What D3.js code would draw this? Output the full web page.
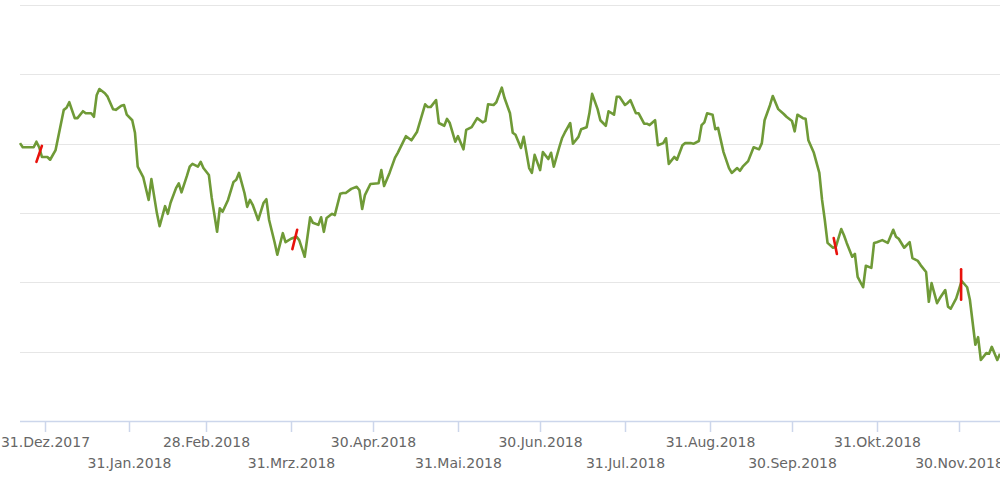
<!DOCTYPE html>
<html lang="de">
  <head>
    <meta charset="utf-8" />
    <title>Kursverlauf 2018</title>
    <script src="https://cdnjs.cloudflare.com/ajax/libs/d3/7.8.5/d3.min.js"></script>
    <style>
      body {
        margin: 0;
        background: #fff;
        font-family: "DejaVu Sans", Verdana, sans-serif;
      }
      .grid line {
        stroke: #e6e6e6;
      }
      .tick-label {
        fill: #666;
        font-size: 14px;
      }
    </style>
  </head>
  <body>
    <div id="chart"></div>
    <script>
      // days after 31.Dez.2017 and price
      const dayOffsets = [
        -9, -8, -4, -3, -2, -1, 1, 2, 4, 7, 8, 9, 11, 12, 14, 15, 17, 18, 19, 20,
        22, 23, 25, 26, 28, 29, 30, 32, 33, 34, 36, 38, 39, 41, 42, 44, 45, 46, 48, 49,
        50, 52, 53, 54, 56, 57, 58, 60, 61, 63, 64, 65, 67, 69, 70, 71, 73, 74, 75, 76,
        78, 80, 81, 82, 84, 85, 87, 88, 90, 92, 93, 95, 97, 98, 100, 101, 102, 103, 105, 106,
        108, 109, 110, 112, 114, 115, 116, 117, 119, 122, 123, 124, 126, 128, 129, 132, 133, 134, 136, 139,
        140, 141, 143, 144, 146, 147, 148, 150, 151, 153, 154, 156, 158, 160, 161, 162, 164, 165, 167, 168,
        170, 171, 172, 174, 175, 177, 178, 179, 181, 182, 184, 185, 186, 188, 189, 190, 192, 193, 195, 196,
        198, 199, 200, 202, 203, 205, 206, 208, 209, 210, 212, 213, 214, 216, 217, 219, 220, 221, 223, 224,
        226, 227, 228, 230, 231, 233, 234, 236, 237, 239, 240, 241, 242, 244, 245, 246, 248, 250, 251, 253,
        254, 255, 257, 259, 261, 262, 263, 265, 266, 268, 270, 271, 273, 274, 275, 277, 278, 279, 281, 283,
        284, 285, 286, 288, 289, 291, 292, 293, 295, 296, 297, 299, 300, 302, 303, 304, 306, 308, 310, 311,
        312, 314, 316, 317, 319, 320, 322, 323, 324, 326, 327, 329, 330, 331, 333, 335, 337, 338, 340, 341,
        342, 344, 345, 346, 348, 349
      ];
      const prices = [
        40.1, 39.5, 39.5, 40.3, 39.5, 38.1, 38.1, 37.7, 39.1, 44.9, 45.2, 46.0, 43.7, 43.7, 44.7, 44.4, 44.4, 43.9, 47.0, 47.9,
        47.3, 46.8, 45.0, 44.9, 45.5, 45.6, 44.2, 43.4, 41.6, 36.7, 35.2, 31.9, 34.9, 30.0, 28.1, 31.0, 29.9, 31.5, 33.6, 34.3,
        33.0, 35.4, 36.7, 37.1, 36.7, 37.4, 36.5, 35.5, 32.3, 27.3, 30.7, 30.2, 31.9, 34.5, 34.8, 35.8, 32.9, 30.9, 31.9, 31.2,
        29.0, 31.5, 32.0, 29.0, 25.8, 24.0, 27.1, 25.8, 26.3, 26.6, 26.1, 23.7, 29.4, 28.6, 28.3, 29.4, 27.3, 29.3, 29.9, 29.7,
        32.8, 32.9, 32.9, 33.5, 33.8, 33.3, 30.6, 32.6, 34.2, 34.3, 36.2, 33.9, 35.8, 38.0, 38.7, 41.1, 40.8, 40.5, 41.7, 45.7,
        45.3, 45.3, 46.3, 43.0, 42.6, 43.6, 43.0, 40.3, 41.1, 39.2, 42.0, 42.4, 43.7, 43.1, 43.3, 45.7, 45.6, 46.0, 48.1, 46.6,
        44.4, 41.6, 41.3, 39.4, 41.0, 36.5, 35.8, 38.4, 36.2, 38.8, 37.8, 38.7, 36.7, 39.5, 40.8, 41.6, 43.0, 40.0, 41.0, 42.1,
        42.4, 44.4, 47.2, 45.0, 43.4, 42.6, 44.7, 44.2, 46.8, 46.8, 45.6, 45.9, 46.3, 44.4, 44.4, 42.9, 42.9, 42.7, 43.4, 39.8,
        40.1, 40.8, 37.1, 38.1, 37.7, 39.8, 40.1, 40.1, 40.0, 40.4, 42.7, 43.1, 44.4, 44.2, 42.1, 42.3, 38.8, 36.5, 35.8, 36.5,
        36.1, 36.7, 37.5, 39.5, 39.2, 40.1, 43.4, 45.6, 46.9, 45.0, 44.3, 43.9, 43.3, 41.8, 44.2, 43.7, 43.6, 40.5, 38.7, 35.8,
        31.9, 29.0, 25.7, 25.0, 25.1, 27.7, 26.8, 25.7, 23.7, 24.1, 20.8, 19.3, 22.4, 22.1, 25.7, 25.8, 26.1, 25.7, 27.6, 26.6,
        26.3, 25.0, 25.8, 23.5, 23.1, 22.5, 21.5, 17.2, 19.9, 17.0, 17.7, 18.9, 16.5, 16.2, 17.7, 20.2, 19.3, 17.5, 11.0, 12.1,
        8.8, 9.8, 9.7, 10.7, 8.8, 9.7
      ];

      // red event markers (start/end date and price)
      const markerStart = ["2017-12-28T00:00", "2018-03-31T12:00", "2018-10-15T06:00", "2018-11-30T19:00"];
      const markerEnd = ["2017-12-30T00:00", "2018-04-02T06:00", "2018-10-16T10:00", "2018-11-30T19:00"];
      const markerFrom = [37.4, 24.8, 26.4, 21.9];
      const markerTo = [39.7, 27.6, 24.1, 17.5];

      const tickDates = [
        "2017-12-31", "2018-01-31", "2018-02-28", "2018-03-31", "2018-04-30", "2018-05-31",
        "2018-06-30", "2018-07-31", "2018-08-31", "2018-09-30", "2018-10-31", "2018-11-30"
      ];
      const tickLabels = [
        "31.Dez.2017", "31.Jan.2018", "28.Feb.2018", "31.Mrz.2018", "30.Apr.2018", "31.Mai.2018",
        "30.Jun.2018", "31.Jul.2018", "31.Aug.2018", "30.Sep.2018", "31.Okt.2018", "30.Nov.2018"
      ];
      const gridValues = [10, 20, 30, 40, 50, 60];

      const width = 1000;
      const height = 477;
      const parse = d3.isoParse;
      const base = new Date(2017, 11, 31);

      const series = dayOffsets.map((d, i) => ({
        date: d3.timeDay.offset(base, d),
        value: prices[i],
      }));

      const x = d3
        .scaleTime()
        .domain([new Date(2017, 11, 22), new Date(2018, 11, 15)])
        .range([20, 1000]);
      const y = d3.scaleLinear().domain([0, 60]).range([421, 5.2]);

      const svg = d3
        .select("#chart")
        .append("svg")
        .attr("width", width)
        .attr("height", height);

      // horizontal grid
      svg
        .append("g")
        .attr("class", "grid")
        .selectAll("line")
        .data(gridValues)
        .enter()
        .append("line")
        .attr("x1", 20)
        .attr("x2", width)
        .attr("y1", (d) => Math.round(y(d)) + 0.5)
        .attr("y2", (d) => Math.round(y(d)) + 0.5);

      // x axis line and ticks
      svg
        .append("line")
        .attr("x1", 20)
        .attr("x2", width)
        .attr("y1", 421.5)
        .attr("y2", 421.5)
        .attr("stroke", "#ccd6eb")
        .attr("stroke-width", 1.5);

      const ticks = svg
        .append("g")
        .selectAll("g")
        .data(tickDates)
        .enter()
        .append("g")
        .attr("transform", (d) => `translate(${Math.round(x(parse(d))) + 0.5},0)`);

      ticks
        .append("line")
        .attr("y1", 421)
        .attr("y2", 432)
        .attr("stroke", "#ccd6eb")
        .attr("stroke-width", 1.5);

      ticks
        .append("text")
        .attr("class", "tick-label")
        .attr("text-anchor", "middle")
        .attr("y", (d, i) => (i % 2 === 0 ? 447 : 468))
        .text((d, i) => tickLabels[i]);

      // price line
      const line = d3
        .line()
        .x((d) => x(d.date))
        .y((d) => y(d.value));

      svg
        .append("path")
        .datum(series)
        .attr("d", line)
        .attr("fill", "none")
        .attr("stroke", "#6f9a37")
        .attr("stroke-width", 2.6)
        .attr("stroke-linejoin", "round");

      // red markers
      svg
        .append("g")
        .selectAll("line")
        .data(markerStart)
        .enter()
        .append("line")
        .attr("x1", (d) => x(parse(d)))
        .attr("x2", (d, i) => x(parse(markerEnd[i])))
        .attr("y1", (d, i) => y(markerFrom[i]))
        .attr("y2", (d, i) => y(markerTo[i]))
        .attr("stroke", "#e8120c")
        .attr("stroke-width", 2.6)
        .attr("stroke-linecap", "round");
    </script>
  </body>
</html>
